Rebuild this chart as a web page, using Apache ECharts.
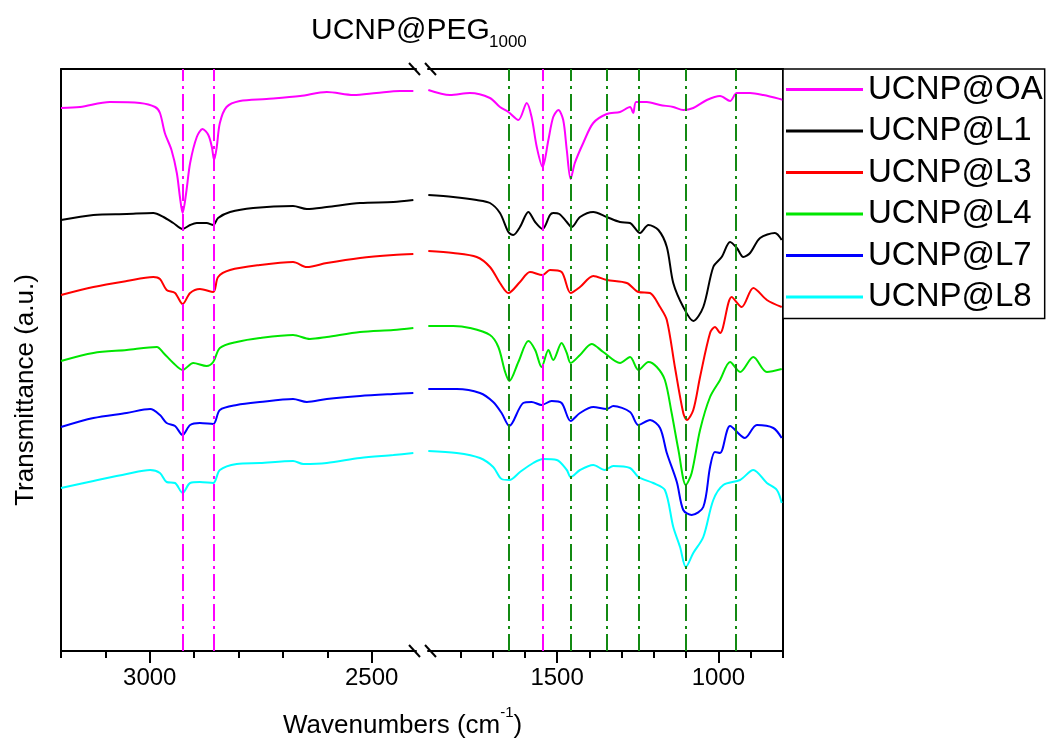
<!DOCTYPE html>
<html><head><meta charset="utf-8">
<script src="https://cdn.jsdelivr.net/npm/echarts@6/dist/echarts.min.js"></script>
<style>html,body{margin:0;padding:0;background:#fff}#c{width:1054px;height:746px}</style>
</head><body><div id="c"></div>
<script>
// ---------- data (wavenumber cm-1, transmittance a.u. with stacking offset) ----------
const seriesNames = ['UCNP@OA','UCNP@L1','UCNP@L3','UCNP@L4','UCNP@L7','UCNP@L8'];
const seriesColors = ['#ff00ff','#000000','#ff0000','#00e600','#0000ff','#00ffff'];

const oaHigh = [[3200,543],[3157,544],[3090,549],[3022,548],[2988,544],[2977,538],[2966,518],[2951,501],[2939,478],[2932,454],[2926,438],[2918,458],[2909,488],[2894,514],[2881,522],[2868,516],[2860,504],[2855,491],[2849,504],[2842,528],[2827,544],[2797,550],[2737,552],[2661,555],[2601,559],[2541,556],[2489,558],[2436,560],[2406,560]];
const oaLow = [[1899,561],[1832,556],[1770,558],[1708,553],[1677,544],[1651,539],[1620,531],[1594,548],[1579,534],[1563,504],[1545,484],[1527,511],[1512,534],[1496,541],[1481,531],[1470,501],[1458,472],[1445,488],[1419,508],[1388,528],[1346,537],[1305,539],[1274,544],[1264,538],[1255,549],[1222,549],[1181,546],[1140,544],[1109,541],[1078,543],[1036,551],[995,555],[964,550],[943,558],[902,558],[861,556],[809,552],[800,551]];

const l1High = [[3200,431],[3127,436],[3052,437],[2992,438],[2969,434],[2947,428],[2926,422],[2909,426],[2894,428],[2872,428],[2857,426],[2846,433],[2819,439],[2767,443],[2677,445],[2646,442],[2601,444],[2526,448],[2451,449],[2406,451]];
const l1Low = [[1899,456],[1822,454],[1749,451],[1708,448],[1677,438],[1651,419],[1636,416],[1615,424],[1589,439],[1568,429],[1545,422],[1522,436],[1512,438],[1493,437],[1470,429],[1455,424],[1429,434],[1388,439],[1346,434],[1305,429],[1274,428],[1243,418],[1217,426],[1186,421],[1160,404],[1140,368],[1109,344],[1078,330],[1047,344],[1016,384],[990,394],[964,409],[943,403],[923,394],[902,398],[871,413],[825,418],[804,411]];

const l3High = [[3200,356],[3127,364],[3052,370],[2992,374],[2977,372],[2962,361],[2943,358],[2926,347],[2909,358],[2887,362],[2857,359],[2846,374],[2819,381],[2752,386],[2677,389],[2646,384],[2601,388],[2526,393],[2451,396],[2406,397]];
const l3Low = [[1899,400],[1822,398],[1749,394],[1708,384],[1677,368],[1651,358],[1615,369],[1584,379],[1545,376],[1522,381],[1486,379],[1458,358],[1429,364],[1388,375],[1346,371],[1284,368],[1248,359],[1212,358],[1181,344],[1160,331],[1135,284],[1109,238],[1098,231],[1078,241],[1057,274],[1026,318],[1011,324],[995,318],[959,354],[928,344],[892,363],[850,351],[804,344]];

const l4High = [[3200,290],[3127,298],[3052,301],[2984,304],[2969,298],[2947,288],[2926,281],[2902,288],[2872,285],[2857,289],[2842,303],[2804,309],[2752,313],[2677,316],[2639,312],[2601,314],[2526,319],[2451,321],[2406,323]];
const l4Low = [[1899,325],[1822,325],[1770,323],[1708,316],[1682,304],[1661,279],[1648,270],[1620,289],[1589,310],[1568,301],[1548,284],[1527,301],[1512,291],[1486,308],[1470,298],[1458,288],[1429,296],[1393,307],[1357,299],[1305,288],[1274,294],[1248,281],[1217,289],[1191,284],[1166,271],[1145,238],[1124,201],[1101,166],[1083,178],[1057,221],[1026,254],[995,271],[964,289],[933,279],[892,294],[850,279],[804,282]];

const l7High = [[3200,224],[3127,233],[3052,238],[2999,242],[2977,236],[2962,228],[2943,225],[2926,216],[2909,226],[2887,228],[2857,227],[2842,241],[2804,246],[2752,249],[2677,252],[2646,249],[2601,252],[2526,255],[2451,257],[2406,258]];
const l7Low = [[1899,262],[1811,262],[1739,258],[1698,249],[1672,238],[1648,225],[1605,248],[1579,249],[1548,246],[1517,250],[1486,248],[1458,230],[1429,238],[1388,244],[1346,242],[1326,245],[1274,239],[1248,226],[1212,231],[1181,223],[1160,198],[1129,169],[1109,141],[1083,136],[1047,144],[1026,184],[1011,199],[995,198],[964,225],[918,213],[881,226],[830,223],[804,213]];

const l8High = [[3200,163],[3127,170],[3052,177],[2999,181],[2977,178],[2962,169],[2943,168],[2926,158],[2909,168],[2887,169],[2857,168],[2842,181],[2804,187],[2752,188],[2677,190],[2654,187],[2601,188],[2526,193],[2451,196],[2406,198]];
const l8Low = [[1899,200],[1811,198],[1739,193],[1698,184],[1672,172],[1648,171],[1615,179],[1574,188],[1543,192],[1501,191],[1470,181],[1458,174],[1429,181],[1388,186],[1352,181],[1326,185],[1274,183],[1248,174],[1202,168],[1166,161],[1140,124],[1119,104],[1101,84],[1078,98],[1047,114],[1016,151],[985,166],[933,171],[892,181],[850,168],[819,161],[804,148]];

const highSets = [oaHigh, l1High, l3High, l4High, l7High, l8High];
const lowSets = [oaLow, l1Low, l3Low, l4Low, l7Low, l8Low];

// axis ranges and ticks
const highRange = [2400, 3200];
const lowRange = [800, 1900];
const yRange = [0, 582];
const highMajor = [2500, 3000];
const highMinor = [3200, 3100, 2900, 2800, 2700, 2600];
const lowMajor = [1000, 1500];
const lowMinor = [1800, 1700, 1600, 1400, 1300, 1200, 1100, 900, 800];

// reference lines
const magentaMarksHigh = [2925, 2855];
const magentaMarksLow = [1545];
const greenMarksLow = [1650, 1457, 1346, 1246, 1100, 947];

// ---------- chart ----------
const FONT = "'Liberation Sans', Arial, sans-serif";
const dashDot = [17, 5, 3, 5];
const chart = echarts.init(document.getElementById('c'), null, {renderer: 'canvas'});

function xAxes(gridIndex, range, major, minor) {
  return [
    { type: 'value', gridIndex, min: range[0], max: range[1], inverse: true, position: 'bottom',
      axisLine: {show: true, onZero: false, lineStyle: {color: '#000', width: 2}},
      axisTick: {show: true, customValues: major, length: 12, inside: false, lineStyle: {color: '#000', width: 2}},
      axisLabel: {show: true, customValues: major, margin: 15, color: '#000', fontSize: 24, fontFamily: FONT,
                  formatter: v => String(v)},
      splitLine: {show: false} },
    { type: 'value', gridIndex, min: range[0], max: range[1], inverse: true, position: 'bottom',
      axisLine: {show: false},
      axisTick: {show: true, customValues: minor, length: 7, lineStyle: {color: '#000', width: 2}},
      axisLabel: {show: false}, splitLine: {show: false} },
    { type: 'value', gridIndex, min: range[0], max: range[1], inverse: true, position: 'top',
      axisLine: {show: true, onZero: false, lineStyle: {color: '#000', width: 2}},
      axisTick: {show: false}, axisLabel: {show: false}, splitLine: {show: false} }
  ];
}

const series = [];
seriesNames.forEach((name, i) => {
  series.push({
    name, type: 'line', xAxisIndex: 0, yAxisIndex: 0, data: highSets[i], showSymbol: false, smooth: 0.3,
    color: seriesColors[i], lineStyle: {width: 2, color: seriesColors[i]}, z: 3,
    markLine: i === 0 ? {
      silent: true, symbol: ['none', 'none'], label: {show: false},
      lineStyle: {color: '#ff00ff', type: dashDot, width: 2},
      data: magentaMarksHigh.map(v => ({xAxis: v}))
    } : undefined
  });
  series.push({
    name, type: 'line', xAxisIndex: 3, yAxisIndex: 1, data: lowSets[i], showSymbol: false, smooth: 0.3,
    color: seriesColors[i], lineStyle: {width: 2, color: seriesColors[i]}, z: 3,
    markLine: i === 0 ? {
      silent: true, symbol: ['none', 'none'], label: {show: false},
      lineStyle: {color: '#138a13', type: dashDot, width: 2},
      data: magentaMarksLow.map(v => ({xAxis: v, lineStyle: {color: '#ff00ff'}}))
        .concat(greenMarksLow.map(v => ({xAxis: v})))
    } : undefined
  });
});

const breakLines = [
  [[409, 645], [420, 657]], [[425, 645], [436, 657]],
  [[409, 63], [420, 75]], [[425, 63], [436, 75]]
];

chart.setOption({
  animation: false,
  backgroundColor: '#fff',
  grid: [
    {left: 61, top: 69, width: 355, height: 582},
    {left: 428, top: 69, width: 355, height: 582}
  ],
  xAxis: [].concat(xAxes(0, highRange, highMajor, highMinor), xAxes(1, lowRange, lowMajor, lowMinor)),
  yAxis: [
    { type: 'value', gridIndex: 0, min: yRange[0], max: yRange[1], position: 'left',
      axisLine: {show: true, lineStyle: {color: '#000', width: 2}},
      axisTick: {show: false}, axisLabel: {show: false}, splitLine: {show: false} },
    { type: 'value', gridIndex: 1, min: yRange[0], max: yRange[1], position: 'right',
      axisLine: {show: true, lineStyle: {color: '#000', width: 2}},
      axisTick: {show: false}, axisLabel: {show: false}, splitLine: {show: false} }
  ],
  legend: {
    orient: 'vertical', left: 783, top: 69,
    data: seriesNames,
    icon: 'rect', itemWidth: 77, itemHeight: 3, itemGap: 8.5, itemTextGap: 9,
    padding: [4, 2, 5, 3],
    borderColor: '#000', borderWidth: 1.5, backgroundColor: '#fff',
    textStyle: {fontSize: 33, lineHeight: 33, color: '#000', fontFamily: FONT},
    selectedMode: false
  },
  graphic: [
    {type: 'text', left: 311, top: 16, style: {text: 'UCNP@PEG', fontSize: 30, fontFamily: FONT, fill: '#000'}},
    {type: 'text', left: 489, top: 34, style: {text: '1000', fontSize: 17, fontFamily: FONT, fill: '#000'}},
    {type: 'text', x: 26, y: 390, rotation: Math.PI / 2, style: {
      text: 'Transmittance (a.u.)', fontSize: 26, fontFamily: FONT, fill: '#000',
      align: 'center', verticalAlign: 'middle'}},
    {type: 'text', left: 283, top: 705, style: {
      text: '{a|Wavenumbers (cm}{b|-1}{a|)}',
      rich: {a: {fontSize: 26, fontFamily: FONT, color: '#000', lineHeight: 34, verticalAlign: 'bottom'},
             b: {fontSize: 15, fontFamily: FONT, color: '#000', lineHeight: 34, verticalAlign: 'top'}}
    }}
  ].concat(breakLines.map(p => ({
    type: 'line', z: 100, shape: {x1: p[0][0], y1: p[0][1], x2: p[1][0], y2: p[1][1]},
    style: {stroke: '#000', lineWidth: 2}
  }))),
  series
});
</script></body></html>
